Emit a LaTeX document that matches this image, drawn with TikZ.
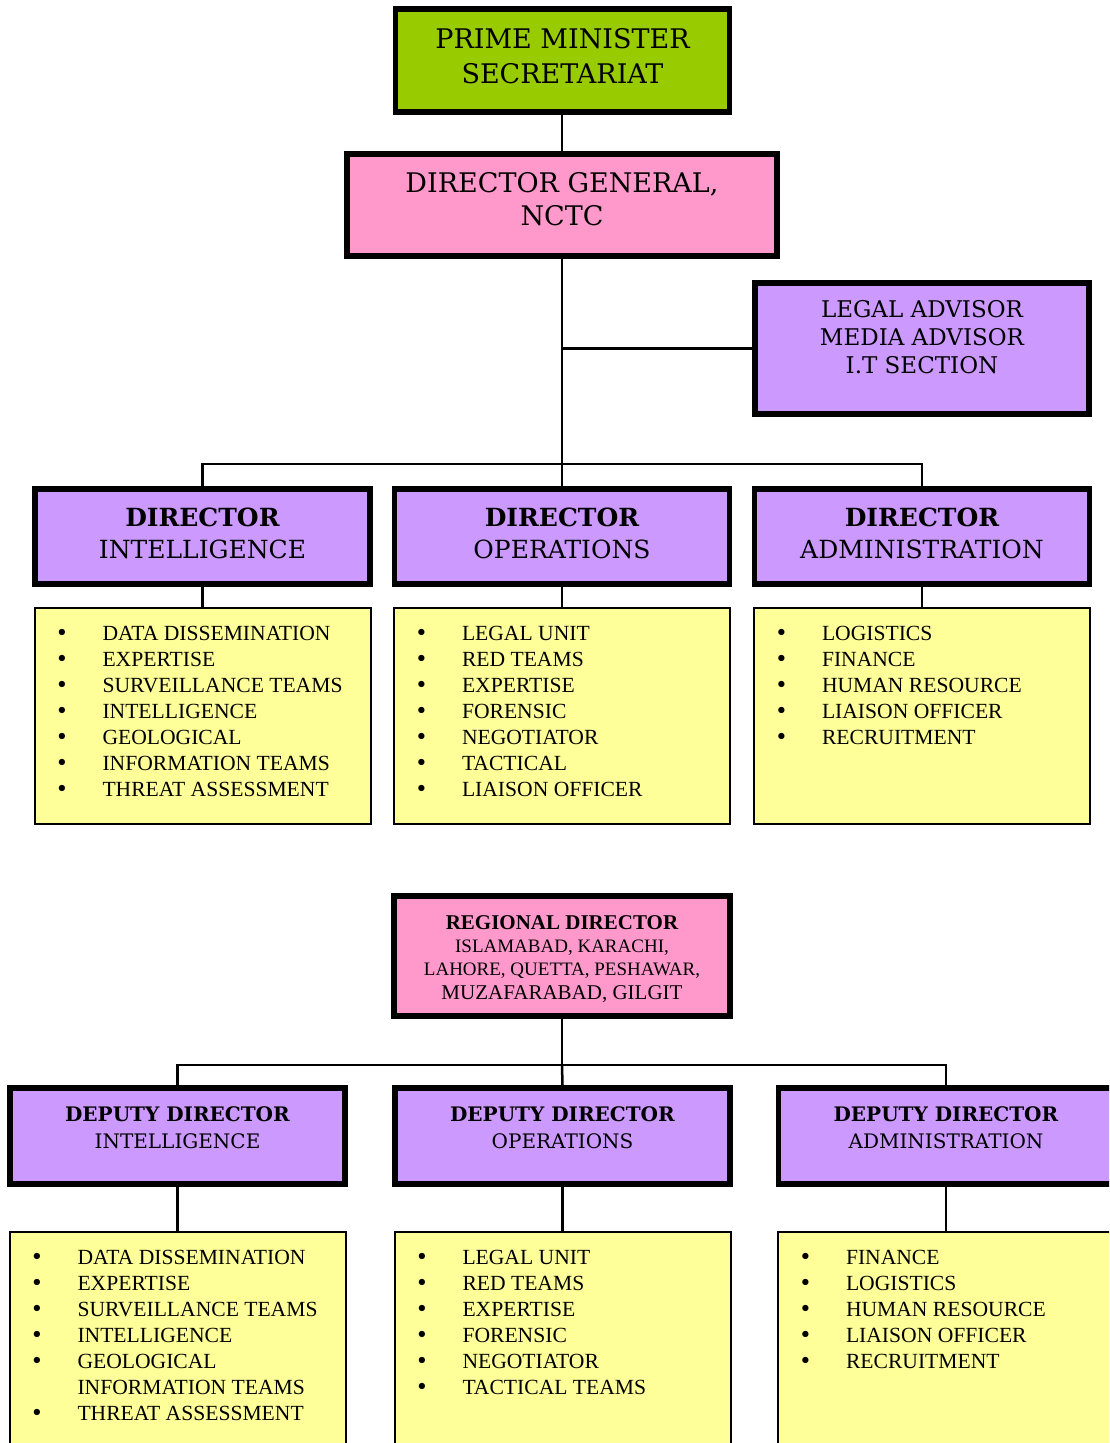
\documentclass[tikz,border=0pt]{standalone}
\usepackage{fontspec}
\setmainfont{DejaVu Serif}
\newfontfamily\timesfont{Liberation Serif}
\usetikzlibrary{positioning}
\definecolor{pmgreen}{HTML}{99CC00}
\definecolor{dgpink}{HTML}{FF99CC}
\definecolor{dirpurple}{HTML}{CC99FF}
\definecolor{listyellow}{HTML}{FFFF99}
\newcommand{\boxtext}[4]{\parbox[c][#1][t]{#2}{\centering\vspace*{#3}#4}}
\newcommand{\bitem}[1]{\par\noindent\hspace*{21pt}\makebox[47pt][l]{\rmfamily\textbullet}#1}
\newcommand{\bmore}[1]{\par\noindent\hspace*{68pt}#1}
\newcommand{\blist}[2]{\parbox[c][#1][t]{336pt}{\timesfont\fontsize{21.6}{26}\selectfont\vspace*{18pt}#2}}

\begin{document}
\begin{tikzpicture}[
    x=1pt, y=-1pt,
    bigbox/.style={rectangle, draw, line width=5.5pt, inner sep=0pt},
    dirbox/.style={bigbox, fill=dirpurple, font=\fontsize{25}{32}\selectfont},
    ddbox/.style={bigbox, fill=dirpurple, font=\fontsize{20}{27}\selectfont},
    listbox/.style={rectangle, draw, line width=2pt, fill=listyellow, inner sep=0pt},
    conn/.style={line width=2.5pt}
]
\clip (0,0) rectangle (1109,1443);
\node[bigbox, fill=pmgreen, font=\fontsize{27}{35}\selectfont] (pm) at (562.5,60.5) {\boxtext{103pt}{334pt}{19pt}{PRIME MINISTER\\SECRETARIAT}};
\node[bigbox, fill=dgpink, font=\fontsize{27}{33}\selectfont] (dg) at (562,205) {\boxtext{102pt}{430pt}{18pt}{DIRECTOR GENERAL,\\NCTC}};
\node[bigbox, fill=dirpurple, font=\fontsize{23}{28}\selectfont] (adv) at (922,348.5) {\boxtext{131pt}{334pt}{17.5pt}{LEGAL ADVISOR\\MEDIA ADVISOR\\I.T SECTION}};
\coordinate (bus1) at (562,464);
\node[dirbox] (dint) at (202.5,536.5) {\boxtext{95pt}{335pt}{18.7pt}{\textbf{DIRECTOR}\\INTELLIGENCE}};
\node[dirbox] (dops) at (562,536.5) {\boxtext{95pt}{335pt}{18.7pt}{\textbf{DIRECTOR}\\OPERATIONS}};
\node[dirbox] (dadm) at (922,536.5) {\boxtext{95pt}{335pt}{18.7pt}{\textbf{DIRECTOR}\\ADMINISTRATION}};
\node[listbox, below=20pt of dint] (lint) {\blist{216pt}{\bitem{DATA DISSEMINATION}\bitem{EXPERTISE}\bitem{SURVEILLANCE TEAMS}\bitem{INTELLIGENCE}\bitem{GEOLOGICAL}\bitem{INFORMATION TEAMS}\bitem{THREAT ASSESSMENT}}};
\node[listbox, below=20pt of dops] (lops) {\blist{216pt}{\bitem{LEGAL UNIT}\bitem{RED TEAMS}\bitem{EXPERTISE}\bitem{FORENSIC}\bitem{NEGOTIATOR}\bitem{TACTICAL}\bitem{LIAISON OFFICER}}};
\node[listbox, below=20pt of dadm] (ladm) {\blist{216pt}{\bitem{LOGISTICS}\bitem{FINANCE}\bitem{HUMAN RESOURCE}\bitem{LIAISON OFFICER}\bitem{RECRUITMENT}}};
\node[bigbox, fill=dgpink, font=\timesfont\fontsize{19}{23}\selectfont] (reg) at (562,956) {\boxtext{120pt}{336pt}{19.5pt}{{\fontsize{21}{23}\selectfont\bfseries REGIONAL DIRECTOR}\\ISLAMABAD, KARACHI,\\LAHORE, QUETTA, PESHAWAR,\\[1pt]{\fontsize{21}{23}\selectfont MUZAFARABAD, GILGIT}}};
\coordinate (bus2) at (562,1065);
\node[ddbox] (ddint) at (177.5,1136) {\boxtext{96pt}{335pt}{18.4pt}{\textbf{DEPUTY DIRECTOR}\\INTELLIGENCE}};
\node[ddbox] (ddops) at (562.5,1136) {\boxtext{96pt}{335pt}{18.4pt}{\textbf{DEPUTY DIRECTOR}\\OPERATIONS}};
\node[ddbox] (ddadm) at (946,1136) {\boxtext{96pt}{335pt}{18.4pt}{\textbf{DEPUTY DIRECTOR}\\ADMINISTRATION}};
\node[listbox, below=44pt of ddint] (llint) {\blist{240pt}{\bitem{DATA DISSEMINATION}\bitem{EXPERTISE}\bitem{SURVEILLANCE TEAMS}\bitem{INTELLIGENCE}\bitem{GEOLOGICAL}\bmore{INFORMATION TEAMS}\bitem{THREAT ASSESSMENT}}};
\node[listbox, below=44pt of ddops] (llops) {\blist{240pt}{\bitem{LEGAL UNIT}\bitem{RED TEAMS}\bitem{EXPERTISE}\bitem{FORENSIC}\bitem{NEGOTIATOR}\bitem{TACTICAL TEAMS}}};
\node[listbox, below=44pt of ddadm] (lladm) {\blist{240pt}{\bitem{FINANCE}\bitem{LOGISTICS}\bitem{HUMAN RESOURCE}\bitem{LIAISON OFFICER}\bitem{RECRUITMENT}}};
\draw[conn] (pm.south -| dg.north) -- (dg.north);
\draw[conn] (dg) -- (dops);
\draw[conn] (adv.west) -- (adv.west -| dg.south);
\draw[conn] (dint.north) |- (bus1) -| (dadm.north);
\draw[conn] (dint) -- (lint);
\draw[conn] (dops) -- (lops);
\draw[conn] (dadm) -- (ladm);
\draw[conn] (reg) -- (bus2);
\draw[conn] (ddint.north) |- (bus2) -| (ddadm.north);
\draw[conn] (bus2) -- (ddops.north);
\draw[conn] (ddint) -- (llint);
\draw[conn] (ddops) -- (llops);
\draw[conn] (ddadm) -- (lladm);
\end{tikzpicture}
\end{document}
